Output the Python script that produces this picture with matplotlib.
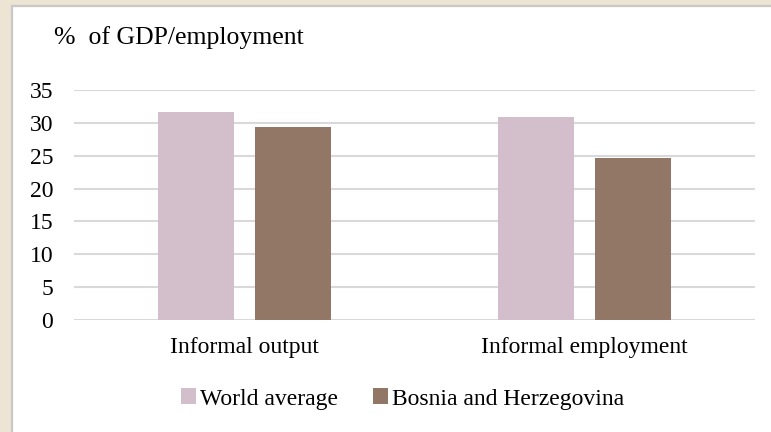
import matplotlib.pyplot as plt
from matplotlib.patches import Rectangle
import numpy as np

categories = ["Informal output", "Informal employment"]
series_names = ["World average", "Bosnia and Herzegovina"]
world_average = [31.7, 30.9]
bosnia = [29.4, 24.7]
y_ticks = [0, 5, 10, 15, 20, 25, 30, 35]

colors = ["#D3BFCC", "#937766"]

plt.rcParams['font.family'] = ['Liberation Serif', 'DejaVu Serif']
font_size = 17

fig = plt.figure(figsize=(7.71, 4.32), dpi=100, facecolor="#EDE4D3")

# white chart panel with grey border (left/top visible)
panel = Rectangle((12 / 771, -0.1), 1.2, 1 - 6 / 432 + 0.1, transform=fig.transFigure,
                  facecolor="white", edgecolor="#C8C8C8", linewidth=1.6, zorder=0)
fig.patches.append(panel)

ax = fig.add_axes([74 / 771, 1 - 320 / 432, (755 - 74) / 771, (320 - 90) / 432])
ax.set_zorder(2)
ax.set_facecolor("none")

x = np.arange(len(categories))
bar_width = 0.223
offset = 0.142
ax.bar(x - offset, world_average, bar_width, color=colors[0], label=series_names[0], zorder=3)
ax.bar(x + offset, bosnia, bar_width, color=colors[1], label=series_names[1], zorder=3)

ax.set_xlim(-0.5, 1.5)
ax.set_ylim(0, 35)
ax.set_yticks(y_ticks)
ax.set_xticks(x)
ax.set_xticklabels(categories, fontsize=font_size)
ax.tick_params(axis="y", labelsize=font_size, length=0, pad=15)
ax.tick_params(axis="x", length=0, pad=12)
ax.yaxis.grid(True, color="#D9D9D9", linewidth=1.5, zorder=0)
ax.set_axisbelow(True)
for s in ax.spines.values():
    s.set_visible(False)

fig.text(54 / 771, 1 - 38 / 432, "%  of GDP/employment", fontsize=18.5,
         ha="left", va="center", zorder=3)

handles, labels = ax.get_legend_handles_labels()
leg = fig.legend(handles, labels, loc="center", bbox_to_anchor=(0.522, 1 - 399 / 432), ncol=2,
                 frameon=False, fontsize=font_size, handlelength=0.64, handleheight=0.64,
                 handletextpad=0.15, columnspacing=1.5, borderpad=0)
leg.set_zorder(3)

fig.savefig("out.png", dpi=100, facecolor=fig.get_facecolor())
